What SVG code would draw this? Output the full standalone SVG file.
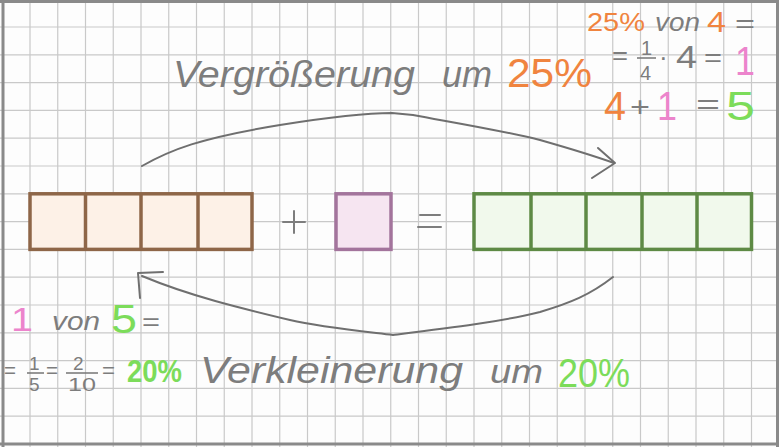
<svg xmlns="http://www.w3.org/2000/svg" width="779" height="447" viewBox="0 0 779 447">
<defs>
<style>
.grid{stroke:#c9c9c9;stroke-width:1.2;fill:none}
.border{stroke:#8a8a8a;stroke-width:3;fill:none}
.t{font-family:"Liberation Sans",Arial,sans-serif;fill:#7d7d7d}
.hw{font-family:"Liberation Sans",Arial,sans-serif;font-style:italic;fill:#7d7d7d}
.or{fill:#f0843f}
.pk{fill:#ec84cc}
.gr{fill:#7cdc5a}
.conn{stroke:#6f6f6f;stroke-width:2;fill:none;stroke-linecap:round;stroke-linejoin:round}
.obox{fill:#fdf1e7;stroke:#8e6648;stroke-width:3.5}
.odiv{stroke:#8e6648;stroke-width:3.5}
.pbox{fill:#f6e5f1;stroke:#a3749c;stroke-width:3.5}
.gbox{fill:#f1f9ec;stroke:#5e8a45;stroke-width:3.5}
.gdiv{stroke:#5e8a45;stroke-width:3.5}
.op{stroke:#7d7d7d;stroke-width:2;fill:none;stroke-linecap:round}
.bar{stroke:#7d7d7d;stroke-width:1.6}
</style>
</defs>
<rect x="0" y="0" width="779" height="447" fill="#fdfdfd"/>
<path class="grid" d="M30 0V447M57.75 0V447M85.5 0V447M113.25 0V447M141 0V447M168.75 0V447M196.5 0V447M224.25 0V447M252 0V447M279.75 0V447M307.5 0V447M335.25 0V447M363 0V447M390.75 0V447M418.5 0V447M446.25 0V447M474 0V447M501.75 0V447M529.5 0V447M557.25 0V447M585 0V447M612.75 0V447M640.5 0V447M668.25 0V447M696 0V447M723.75 0V447M751.5 0V447M0 27H779M0 54.8H779M0 82.6H779M0 110.4H779M0 138.2H779M0 166H779M0 193.8H779M0 221.6H779M0 249.4H779M0 277.2H779M0 305H779M0 332.8H779M0 360.6H779M0 388.4H779M0 416.2H779"/>
<path class="border" d="M3 0V447M0 1.5H779M777.5 0V447M0 444H779"/>

<g id="connectors">
<path class="conn" d="M142 166 C170 150 200 138 280 125 C330 117 370 113 392 113 L413 115 C450 122 500 130 540 140 C575 150 600 158 614 163"/>
<path class="conn" d="M598 148 L615 163 L592 178"/>
<path class="conn" d="M613 277 C590 295 570 303 540 312 C500 322 450 328 393 335 C360 331 320 327 290 320 C240 308 190 296 142 276"/>
<path class="conn" d="M163 272 L138 273 L140 298"/>
</g>

<g id="orange-bar">
<rect class="obox" x="30" y="193.8" width="222" height="55.6"/>
<line class="odiv" x1="85.5" y1="193.8" x2="85.5" y2="249.4"/>
<line class="odiv" x1="141" y1="193.8" x2="141" y2="249.4"/>
<line class="odiv" x1="198" y1="193.8" x2="198" y2="249.4"/>
</g>

<g id="plus">
<path class="op" d="M283 222H305M294 211V233"/>
</g>

<g id="pink-box">
<rect class="pbox" x="336" y="193.8" width="55" height="55.6"/>
</g>

<g id="equals">
<path class="op" d="M420 215H440M418 227H441"/>
</g>

<g id="green-bar">
<rect class="gbox" x="474" y="193.8" width="277.5" height="55.6"/>
<line class="gdiv" x1="531" y1="193.8" x2="531" y2="249.4"/>
<line class="gdiv" x1="586" y1="193.8" x2="586" y2="249.4"/>
<line class="gdiv" x1="642" y1="193.8" x2="642" y2="249.4"/>
<line class="gdiv" x1="697" y1="193.8" x2="697" y2="249.4"/>
</g>

<g id="label-top">
<text class="hw" x="173" y="87" font-size="36" textLength="242" lengthAdjust="spacingAndGlyphs">Vergrößerung</text>
<text class="hw" x="442" y="87" font-size="36" textLength="50" lengthAdjust="spacingAndGlyphs">um</text>
<text class="t or" x="507" y="87" font-size="40" textLength="85" lengthAdjust="spacingAndGlyphs">25%</text>
</g>

<g id="calc-top">
<text class="t or" x="587" y="31" font-size="26" textLength="58" lengthAdjust="spacingAndGlyphs">25%</text>
<text class="hw" x="655" y="31" font-size="26" textLength="45" lengthAdjust="spacingAndGlyphs">von</text>
<text class="t or" x="707" y="32" font-size="30" textLength="19" lengthAdjust="spacingAndGlyphs">4</text>
<text class="t" x="735" y="32" font-size="26" textLength="20" lengthAdjust="spacingAndGlyphs">=</text>
<text class="t" x="612" y="64" font-size="26" textLength="16" lengthAdjust="spacingAndGlyphs">=</text>
<text class="t" x="641" y="55" font-size="20">1</text>
<line class="bar" x1="637" y1="58" x2="656" y2="58"/>
<text class="t" x="640" y="80" font-size="20">4</text>
<text class="t" x="659" y="66" font-size="26">·</text>
<text class="t" x="676" y="68" font-size="32" textLength="21" lengthAdjust="spacingAndGlyphs">4</text>
<text class="t" x="704" y="66" font-size="26" textLength="18" lengthAdjust="spacingAndGlyphs">=</text>
<text class="t pk" x="735" y="75" font-size="40" textLength="20" lengthAdjust="spacingAndGlyphs">1</text>
<text class="t or" x="604" y="120" font-size="40" textLength="22" lengthAdjust="spacingAndGlyphs">4</text>
<text class="t" x="630" y="116" font-size="28" textLength="20" lengthAdjust="spacingAndGlyphs">+</text>
<text class="t pk" x="657" y="120" font-size="40" textLength="20" lengthAdjust="spacingAndGlyphs">1</text>
<text class="t" x="696" y="114" font-size="28" textLength="24" lengthAdjust="spacingAndGlyphs">=</text>
<text class="t gr" x="726" y="120" font-size="40" textLength="29" lengthAdjust="spacingAndGlyphs">5</text>
</g>

<g id="calc-bottom">
<text class="t pk" x="11" y="331" font-size="34" textLength="22" lengthAdjust="spacingAndGlyphs">1</text>
<text class="hw" x="52" y="330" font-size="26" textLength="48" lengthAdjust="spacingAndGlyphs">von</text>
<text class="t gr" x="111" y="333" font-size="40" textLength="26" lengthAdjust="spacingAndGlyphs">5</text>
<text class="t" x="142" y="330" font-size="24" textLength="18" lengthAdjust="spacingAndGlyphs">=</text>
<text class="t" x="4" y="378" font-size="22" textLength="12" lengthAdjust="spacingAndGlyphs">=</text>
<text class="t" x="29" y="370" font-size="19">1</text>
<line class="bar" x1="27" y1="373" x2="44" y2="373"/>
<text class="t" x="29" y="391" font-size="19">5</text>
<text class="t" x="46" y="378" font-size="22" textLength="12" lengthAdjust="spacingAndGlyphs">=</text>
<text class="t" x="73" y="370" font-size="19">2</text>
<line class="bar" x1="66" y1="373" x2="98" y2="373"/>
<text class="t" x="68" y="391" font-size="19" textLength="28" lengthAdjust="spacingAndGlyphs">10</text>
<text class="t" x="102" y="378" font-size="22" textLength="13" lengthAdjust="spacingAndGlyphs">=</text>
<text class="t gr" x="127" y="382" font-size="32" font-weight="bold" textLength="55" lengthAdjust="spacingAndGlyphs">20%</text>
</g>

<g id="label-bottom">
<text class="hw" x="200" y="383" font-size="36" textLength="263" lengthAdjust="spacingAndGlyphs">Verkleinerung</text>
<text class="hw" x="490" y="383" font-size="34" textLength="53" lengthAdjust="spacingAndGlyphs">um</text>
<text class="t gr" x="558" y="387" font-size="40" textLength="72" lengthAdjust="spacingAndGlyphs">20%</text>
</g>
</svg>
